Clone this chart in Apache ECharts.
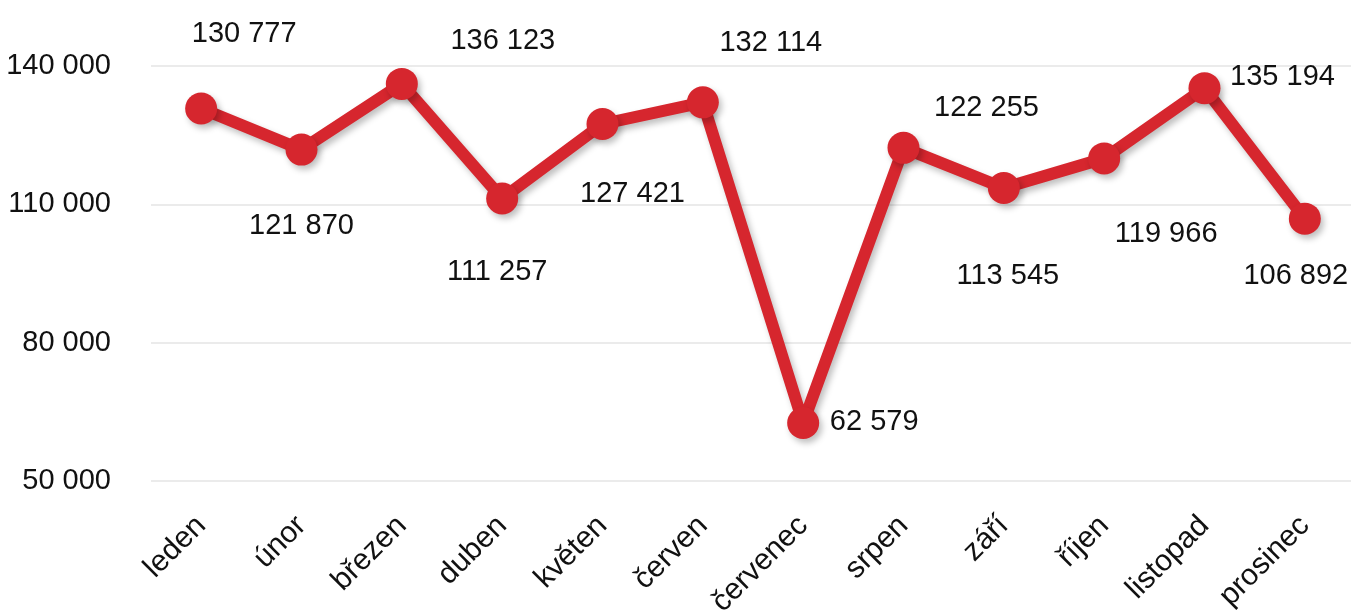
<!DOCTYPE html>
<html>
<head>
<meta charset="utf-8">
<script src="https://cdn.jsdelivr.net/npm/echarts@6/dist/echarts.min.js"></script>
<style>
  html, body { margin: 0; padding: 0; background: #fff; }
  #chart { width: 1351px; height: 615px; }
</style>
</head>
<body>
<div id="chart"></div>
<script>
const months = ['leden', 'únor', 'březen', 'duben', 'květen', 'červen',
  'červenec', 'srpen', 'září', 'říjen', 'listopad', 'prosinec'];
const values = [130777, 121870, 136123, 111257, 127421, 132114,
  62579, 122255, 113545, 119966, 135194, 106892];
const yTicks = [50000, 80000, 110000, 140000];

// where each value label sits relative to its point (px)
const labelOffsets = [[43, -75], [0, 76], [101, -43], [-5, 73], [30, 70], [68, -59],
  [71, -1], [83, -40], [4, 88], [62, 76], [78, -11], [-9, 57]];

const FONT = '"Liberation Sans", Arial, sans-serif';
const fmt = v => String(v).replace(/\B(?=(\d{3})+(?!\d))/g, ' ');

const chart = echarts.init(document.getElementById('chart'));

chart.setOption({
  animation: false,
  grid: { left: 151, right: -4, top: 66, bottom: 134, outerBoundsMode: 'none' },
  xAxis: {
    type: 'category',
    data: months,
    axisLine: { show: false },
    axisTick: { show: false },
    axisLabel: {
      rotate: 45,
      margin: 40,
      fontFamily: FONT,
      fontSize: 30,
      color: '#111'
    }
  },
  yAxis: {
    type: 'value',
    min: 50000,
    max: 140000,
    axisLine: { show: false },
    axisTick: { show: false, customValues: yTicks },
    axisLabel: {
      customValues: yTicks,
      margin: 40,
      fontFamily: FONT,
      fontSize: 29,
      color: '#111',
      formatter: v => fmt(v)
    },
    splitLine: { lineStyle: { color: '#e4e4e4', width: 1.5 } }
  },
  series: [{
    type: 'line',
    data: values.map((v, i) => ({
      value: v,
      label: { offset: labelOffsets[i] }
    })),
    symbol: 'circle',
    symbolSize: 32,
    lineStyle: {
      color: '#d6262e',
      width: 12,
      shadowColor: 'rgba(0,0,0,0.25)',
      shadowBlur: 6,
      shadowOffsetX: 3,
      shadowOffsetY: 4
    },
    itemStyle: {
      color: '#d6262e',
      shadowColor: 'rgba(0,0,0,0.25)',
      shadowBlur: 6,
      shadowOffsetX: 3,
      shadowOffsetY: 4
    },
    label: {
      show: true,
      position: 'inside',
      fontFamily: FONT,
      fontSize: 29,
      color: '#111',
      formatter: p => fmt(p.value)
    }
  }]
});
</script>
</body>
</html>
